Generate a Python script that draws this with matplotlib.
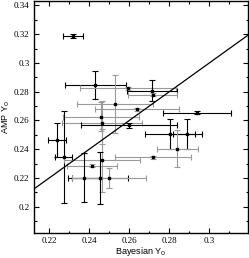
import matplotlib
matplotlib.use("Agg")
import matplotlib.pyplot as plt
from matplotlib.ticker import MultipleLocator
import numpy as np

# point estimates
bayes_y0 = [0.2317, 0.2430, 0.2592, 0.2712, 0.2717, 0.2528, 0.2637, 0.2937,
            0.2457, 0.2465, 0.2598, 0.2240, 0.2803, 0.2890, 0.2840, 0.2272,
            0.2720, 0.2465, 0.2413, 0.2373, 0.2453, 0.2498]
amp_y0 = [0.3186, 0.2846, 0.2823, 0.2806, 0.2780, 0.2714, 0.2677, 0.2653,
          0.2626, 0.2584, 0.2565, 0.2463, 0.2505, 0.2505, 0.2403, 0.2345,
          0.2345, 0.2322, 0.2285, 0.2202, 0.2202, 0.2202]
bayes_err = [0.0050, 0.0154, 0.0240, 0.0125, 0.0123, 0.0190, 0.0210, 0.0170,
             0.0190, 0.0200, 0.0240, 0.0045, 0.0127, 0.0072, 0.0102, 0.0042,
             0.0190, 0.0190, 0.0127, 0.0080, 0.0140, 0.0183]
amp_err = [0.0016, 0.0100, 0.0010, 0.0074, 0.0010, 0.0200, 0.0010, 0.0010,
           0.0100, 0.0150, 0.0015, 0.0120, 0.0102, 0.0102, 0.0130, 0.0320,
           0.0010, 0.0220, 0.0010, 0.0170, 0.0180, 0.0070]
# which error bars are drawn grey
grey = [0, 0, 1, 0, 1, 1, 1, 0,
        1, 1, 0, 0, 0, 0, 1, 0,
        1, 1, 1, 0, 0, 1]

x_ticks = [0.22, 0.24, 0.26, 0.28, 0.30]
x_labels = ["0.22", "0.24", "0.26", "0.28", "0.3"]
y_ticks = [0.20, 0.22, 0.24, 0.26, 0.28, 0.30, 0.32, 0.34]
y_labels = ["0.2", "0.22", "0.24", "0.26", "0.28", "0.3", "0.32", "0.34"]

fig = plt.figure(figsize=(2.49, 2.58), dpi=100)
ax = fig.add_axes([0.1353, 0.0969, 0.8617, 0.899])

xmin, xmax = 0.2122, 0.3194
ymin, ymax = 0.1817, 0.3430

# y = x reference line
ax.plot([xmin, xmax], [xmin, xmax], color="black", lw=0.9, zorder=3)

for i in range(len(bayes_y0)):
    c = "#9a9a9a" if grey[i] else "black"
    ax.errorbar(bayes_y0[i], amp_y0[i], xerr=bayes_err[i], yerr=amp_err[i],
                fmt="none", ecolor=c, elinewidth=0.8, capsize=2.2,
                capthick=0.8, zorder=2)
ax.plot(bayes_y0, amp_y0, "s", color="black", ms=1.5, zorder=4)

ax.set_xlim(xmin, xmax)
ax.set_ylim(ymin, ymax)
ax.set_xticks(x_ticks)
ax.set_xticklabels(x_labels)
ax.set_yticks(y_ticks)
ax.set_yticklabels(y_labels)
ax.xaxis.set_minor_locator(MultipleLocator(0.01))
ax.yaxis.set_minor_locator(MultipleLocator(0.01))
ax.tick_params(which="both", direction="in", top=True, right=True,
               width=0.8, labelsize=6.5, pad=3)
ax.tick_params(which="major", length=3.5)
ax.tick_params(which="minor", length=1.8)
for lab in ax.get_xticklabels() + ax.get_yticklabels():
    lab.set_fontfamily("Liberation Serif")
for sp in ax.spines.values():
    sp.set_linewidth(1.0)

ax.set_xlabel("Bayesian Y$_0$", fontsize=6.5, family="Liberation Sans", labelpad=0)
ax.set_ylabel("AMP Y$_0$", fontsize=6.5, family="Liberation Sans", labelpad=1)

fig.savefig("out.png", dpi=100)
